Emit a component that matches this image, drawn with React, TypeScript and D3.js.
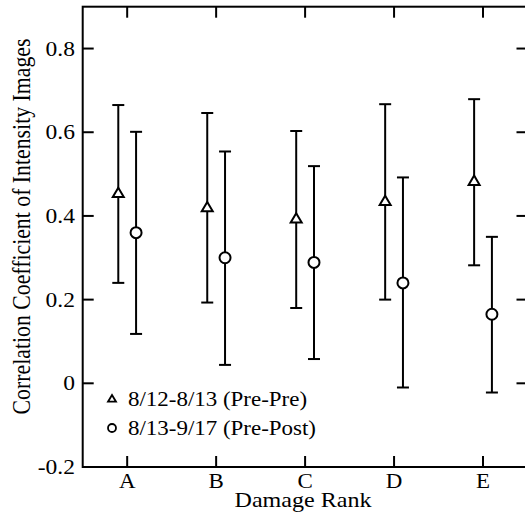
import React from "react";
import * as d3 from "d3";

const categories = ["A", "B", "C", "D", "E"];
const prePreMean = [0.454, 0.42, 0.393, 0.435, 0.483];
const prePreUpper = [0.665, 0.646, 0.603, 0.667, 0.679];
const prePreLower = [0.24, 0.193, 0.18, 0.2, 0.282];
const prePostMean = [0.36, 0.3, 0.289, 0.24, 0.165];
const prePostUpper = [0.601, 0.554, 0.519, 0.492, 0.35];
const prePostLower = [0.118, 0.044, 0.058, -0.01, -0.022];
const yTicks = [-0.2, 0, 0.2, 0.4, 0.6, 0.8];
const yTickLabels = ["-0.2", "0", "0.2", "0.4", "0.6", "0.8"];
const seriesNames = ["8/12-8/13 (Pre-Pre)", "8/13-9/17 (Pre-Post)"];

const W = 525;
const H = 515;
const left = 82.7;
const right = 527.5;
const top = 6.7;
const bottom = 467;
const SX = 1.12;
const fam = "Liberation Serif, Times New Roman, Times, serif";

function T(props: { x: number; y: number; size: number; anchor?: string; dy?: string; children: React.ReactNode }) {
  return (
    <text
      transform={`translate(${props.x},${props.y}) scale(${SX},1)`}
      textAnchor={props.anchor || "start"}
      dy={props.dy}
      style={{ fontFamily: fam, fontSize: props.size }}
    >
      {props.children}
    </text>
  );
}

export default function App() {
  const x = d3.scaleLinear().domain([0.5, 5.5]).range([left, right]);
  const y = d3.scaleLinear().domain([-0.2, 0.9]).range([bottom, top]);
  const off = 0.1;
  const tickLen = 11;
  const sw = 2;
  const cap = 6;

  const triPath = (cx: number, cy: number, s: number) => {
    const h = s * 0.85;
    return `M${cx},${cy - h * 0.6}L${cx + s / 2},${cy + h * 0.4}L${cx - s / 2},${cy + h * 0.4}Z`;
  };

  const errorBar = (xi: number, lo: number, hi: number, key: string) => (
    <g key={key} stroke="#000" strokeWidth={sw}>
      <line x1={xi} x2={xi} y1={y(lo)} y2={y(hi)} />
      <line x1={xi - cap} x2={xi + cap} y1={y(lo)} y2={y(lo)} />
      <line x1={xi - cap} x2={xi + cap} y1={y(hi)} y2={y(hi)} />
    </g>
  );

  return (
    <svg width={W} height={H} style={{ position: "absolute", left: 0, top: 0 }}>
      <rect width={W} height={H} fill="#fff" />
      <rect x={left} y={top} width={right - left} height={bottom - top} fill="none" stroke="#000" strokeWidth={2} />
      {yTicks.map((t, i) => (
        <g key={"yt" + i}>
          <line x1={left} x2={left + tickLen} y1={y(t)} y2={y(t)} stroke="#000" strokeWidth={2} />
          <line x1={right} x2={right - tickLen} y1={y(t)} y2={y(t)} stroke="#000" strokeWidth={2} />
          <T x={75} y={y(t)} size={21} anchor="end" dy="0.34em">
            {yTickLabels[i]}
          </T>
        </g>
      ))}
      {categories.map((c, i) => (
        <g key={"xt" + i}>
          <line x1={x(i + 1)} x2={x(i + 1)} y1={bottom} y2={bottom - tickLen} stroke="#000" strokeWidth={2} />
          <line x1={x(i + 1)} x2={x(i + 1)} y1={top} y2={top + tickLen} stroke="#000" strokeWidth={2} />
          <T x={x(i + 1)} y={488.3} size={20.5} anchor="middle">
            {c}
          </T>
        </g>
      ))}
      {categories.map((c, i) => errorBar(x(i + 1 - off), prePreLower[i], prePreUpper[i], "e1" + i))}
      {categories.map((c, i) => errorBar(x(i + 1 + off), prePostLower[i], prePostUpper[i], "e2" + i))}
      {categories.map((c, i) => (
        <path key={"m1" + i} d={triPath(x(i + 1 - off), y(prePreMean[i]), 11)} fill="#fff" stroke="#000" strokeWidth={sw} />
      ))}
      {categories.map((c, i) => (
        <circle key={"m2" + i} cx={x(i + 1 + off)} cy={y(prePostMean[i])} r={5.5} fill="#fff" stroke="#000" strokeWidth={sw} />
      ))}
      <path d={triPath(112, 399, 8)} fill="#fff" stroke="#000" strokeWidth={1.8} />
      <T x={128} y={399} size={20.5} dy="0.34em">{seriesNames[0]}</T>
      <circle cx={112} cy={428} r={4} fill="#fff" stroke="#000" strokeWidth={1.8} />
      <T x={128} y={428} size={20.5} dy="0.34em">{seriesNames[1]}</T>
      <T x={303} y={506.5} size={21.5} anchor="middle">Damage Rank</T>
      <text
        transform={`translate(30,226.5) scale(${SX},1) rotate(-90)`}
        textAnchor="middle"
        style={{ fontFamily: fam, fontSize: 21.8 }}
      >
        Correlation Coefficient of Intensity Images
      </text>
    </svg>
  );
}
